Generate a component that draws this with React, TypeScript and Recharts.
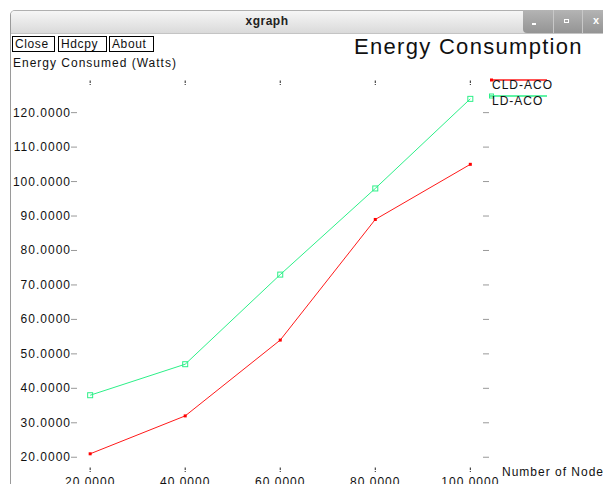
import React from "react";
import { LineChart, Line, XAxis, YAxis, Legend } from "recharts";

const nodes = [20, 40, 60, 80, 100];
const cldAco = [21, 32, 54, 89, 105];
const ldAco = [38, 47, 73, 98, 124];
const xTicks = [20, 40, 60, 80, 100];
const yTicks = [20, 30, 40, 50, 60, 70, 80, 90, 100, 110, 120];

const data = nodes.map((n, i) => ({ nodes: n, cld: cldAco[i], ld: ldAco[i] }));

const FONT = "'Liberation Sans', Arial, sans-serif";
const RED = "#ff1a1a";
const GREEN = "#2cf088";

const LeftTick = (props: any) => {
  const { x, y, payload } = props;
  return (
    <g>
      <text x={x - 3} y={y} textAnchor="end" dominantBaseline="central" fontSize={12} letterSpacing={1} fill="#111" fontFamily={FONT}>
        {Number(payload.value).toFixed(4)}
      </text>
      <line x1={x - 2.5} x2={x + 2.5} y1={y} y2={y} stroke="#333" strokeDasharray="1 1" />
    </g>
  );
};

// right axis ticks: the tick x is the plot's right edge
const RightTick = (props: any) => {
  const { x, y } = props;
  return <line x1={x - 2.5} x2={x + 2.5} y1={y} y2={y} stroke="#333" strokeDasharray="1 1" />;
};

const TopTick = (props: any) => {
  const { x, y } = props;
  return <line x1={x} x2={x} y1={y - 2.5} y2={y + 2} stroke="#222" strokeDasharray="2.5 1 1" />;
};

const BottomTick = (props: any) => {
  const { x, y, payload } = props;
  return (
    <g>
      <line x1={x} x2={x} y1={y - 2.5} y2={y + 2} stroke="#222" strokeDasharray="2.5 1 1" />
      <text x={x} y={y + 16} textAnchor="middle" fontSize={12} letterSpacing={1} fill="#111" fontFamily={FONT}>
        {Number(payload.value).toFixed(4)}
      </text>
    </g>
  );
};

const RedDot = (props: any) => {
  const { cx, cy } = props;
  return <rect x={cx - 1.5} y={cy - 1.5} width={3} height={3} fill="#ff0000" />;
};

const GreenDot = (props: any) => {
  const { cx, cy } = props;
  return <rect x={cx - 2.5} y={cy - 2.5} width={5} height={5} fill="none" stroke={GREEN} strokeWidth={1} />;
};

const renderLegend = (props: any) => {
  const items = props.payload || [];
  return (
    <svg width={80} height={40} style={{ display: "block" }}>
      {items.map((it: any, i: number) => {
        const ly = 6 + i * 16;
        return (
          <g key={i}>
            <line x1={2} x2={59} y1={ly} y2={ly} stroke={it.color} strokeWidth={1.5} />
            {i === 0 ? (
              <rect x={2} y={ly - 1.5} width={3} height={3} fill="#ff0000" />
            ) : (
              <rect x={1.5} y={ly - 2} width={4} height={4} fill="none" stroke={it.color} />
            )}
            <text x={4} y={ly + 9} fontSize={12} letterSpacing={1} fill="#111" fontFamily={FONT}>
              {it.value}
            </text>
          </g>
        );
      })}
    </svg>
  );
};

const btn: React.CSSProperties = {
  position: "absolute",
  top: 36,
  height: 14,
  border: "1px solid #000",
  fontSize: 12,
  letterSpacing: 0.6,
  lineHeight: "14px",
  padding: "0 2px",
  background: "#fff",
  color: "#111",
};

export default function App() {
  return (
    <div
      style={{
        position: "fixed",
        left: 0,
        top: 0,
        width: 603,
        height: 484,
        overflow: "hidden",
        background: "#fff",
        fontFamily: FONT,
      }}
    >
      {/* window frame */}
      <div
        style={{
          position: "absolute",
          left: 10,
          top: 10,
          width: 620,
          height: 500,
          borderLeft: "1px solid #9a9a9a",
          borderTop: "1px solid #b0b0b0",
          borderTopLeftRadius: 5,
        }}
      />
      <div
        style={{
          position: "absolute",
          left: 11,
          top: 11,
          width: 600,
          height: 22,
          background: "linear-gradient(#f6f6f6, #dadada)",
          borderBottom: "1px solid #c4c4c4",
          borderTopLeftRadius: 4,
        }}
      />
      <div
        style={{
          position: "absolute",
          left: 11,
          width: 512,
          top: 14,
          textAlign: "center",
          fontWeight: "bold",
          fontSize: 12,
          letterSpacing: 0.5,
          color: "#222",
        }}
      >
        xgraph
      </div>
      <div
        style={{
          position: "absolute",
          left: 523,
          top: 10,
          width: 90,
          height: 23,
          background: "linear-gradient(#b4b4b4, #949494)",
          borderBottomLeftRadius: 4,
        }}
      />
      {[553, 582].map((x) => (
        <div key={x} style={{ position: "absolute", left: x, top: 10, width: 1, height: 23, background: "#c8c8c8" }} />
      ))}
      <div style={{ position: "absolute", left: 532, top: 23, width: 4, height: 1.5, background: "#fff" }} />
      <div style={{ position: "absolute", left: 564, top: 19, width: 5, height: 4, border: "1px solid #fff", boxSizing: "border-box" }} />
      <div style={{ position: "absolute", left: 593, top: 14, fontSize: 11, fontWeight: "bold", color: "#fff" }}>x</div>

      {/* buttons */}
      <div style={{ ...btn, left: 12, width: 37 }}>Close</div>
      <div style={{ ...btn, left: 58, width: 43 }}>Hdcpy</div>
      <div style={{ ...btn, left: 109, width: 39 }}>About</div>

      <div
        style={{
          position: "absolute",
          left: 354,
          top: 36,
          fontSize: 22,
          letterSpacing: 1.3,
          color: "#111",
          lineHeight: "22px",
        }}
      >
        Energy Consumption
      </div>
      <div style={{ position: "absolute", left: 13, top: 56, fontSize: 12, letterSpacing: 1, color: "#111" }}>
        Energy Consumed (Watts)
      </div>
      <div style={{ position: "absolute", left: 502, top: 465, fontSize: 12, letterSpacing: 1, color: "#111", whiteSpace: "nowrap" }}>
        Number of Node
      </div>

      <div style={{ position: "absolute", left: 0, top: 0 }}>
        <LineChart width={603} height={484} data={data} margin={{ top: 82, right: 116, bottom: 0, left: 0 }}>
          <XAxis
            xAxisId="bottom"
            dataKey="nodes"
            type="number"
            domain={[16.6, 103.3]}
            ticks={xTicks}
            orientation="bottom"
            height={14}
            axisLine={false}
            tickLine={false}
            tickSize={0}
            tickMargin={0}
            tick={<BottomTick />}
            interval={0}
          />
          <XAxis
            xAxisId="top"
            dataKey="nodes"
            type="number"
            domain={[16.6, 103.3]}
            ticks={xTicks}
            orientation="top"
            height={1}
            axisLine={false}
            tickLine={false}
            tickSize={0}
            tickMargin={0}
            tick={<TopTick />}
            interval={0}
          />
          <YAxis
            yAxisId="left"
            type="number"
            domain={[16.3, 128.6]}
            ticks={yTicks}
            orientation="left"
            width={74}
            axisLine={false}
            tickLine={false}
            tickSize={0}
            tickMargin={0}
            tick={<LeftTick />}
            interval={0}
          />
          <YAxis
            yAxisId="right"
            dataKey="ld"
            type="number"
            domain={[16.3, 128.6]}
            ticks={yTicks}
            orientation="right"
            width={1}
            axisLine={false}
            tickLine={false}
            tickSize={0}
            tickMargin={0}
            tick={<RightTick />}
            interval={0}
          />
          <Legend
            layout="horizontal"
            verticalAlign="middle"
            align="center"
            content={renderLegend}
            wrapperStyle={{ position: "absolute", left: 488, top: 74, width: 80, height: 40 }}
          />
          <Line
            xAxisId="bottom"
            yAxisId="left"
            type="linear"
            dataKey="cld"
            name="CLD-ACO"
            stroke={RED}
            strokeWidth={1}
            dot={<RedDot />}
            activeDot={false}
            isAnimationActive={false}
          />
          <Line
            xAxisId="bottom"
            yAxisId="left"
            type="linear"
            dataKey="ld"
            name="LD-ACO"
            stroke={GREEN}
            strokeWidth={1}
            dot={<GreenDot />}
            activeDot={false}
            isAnimationActive={false}
          />
        </LineChart>
      </div>
    </div>
  );
}
